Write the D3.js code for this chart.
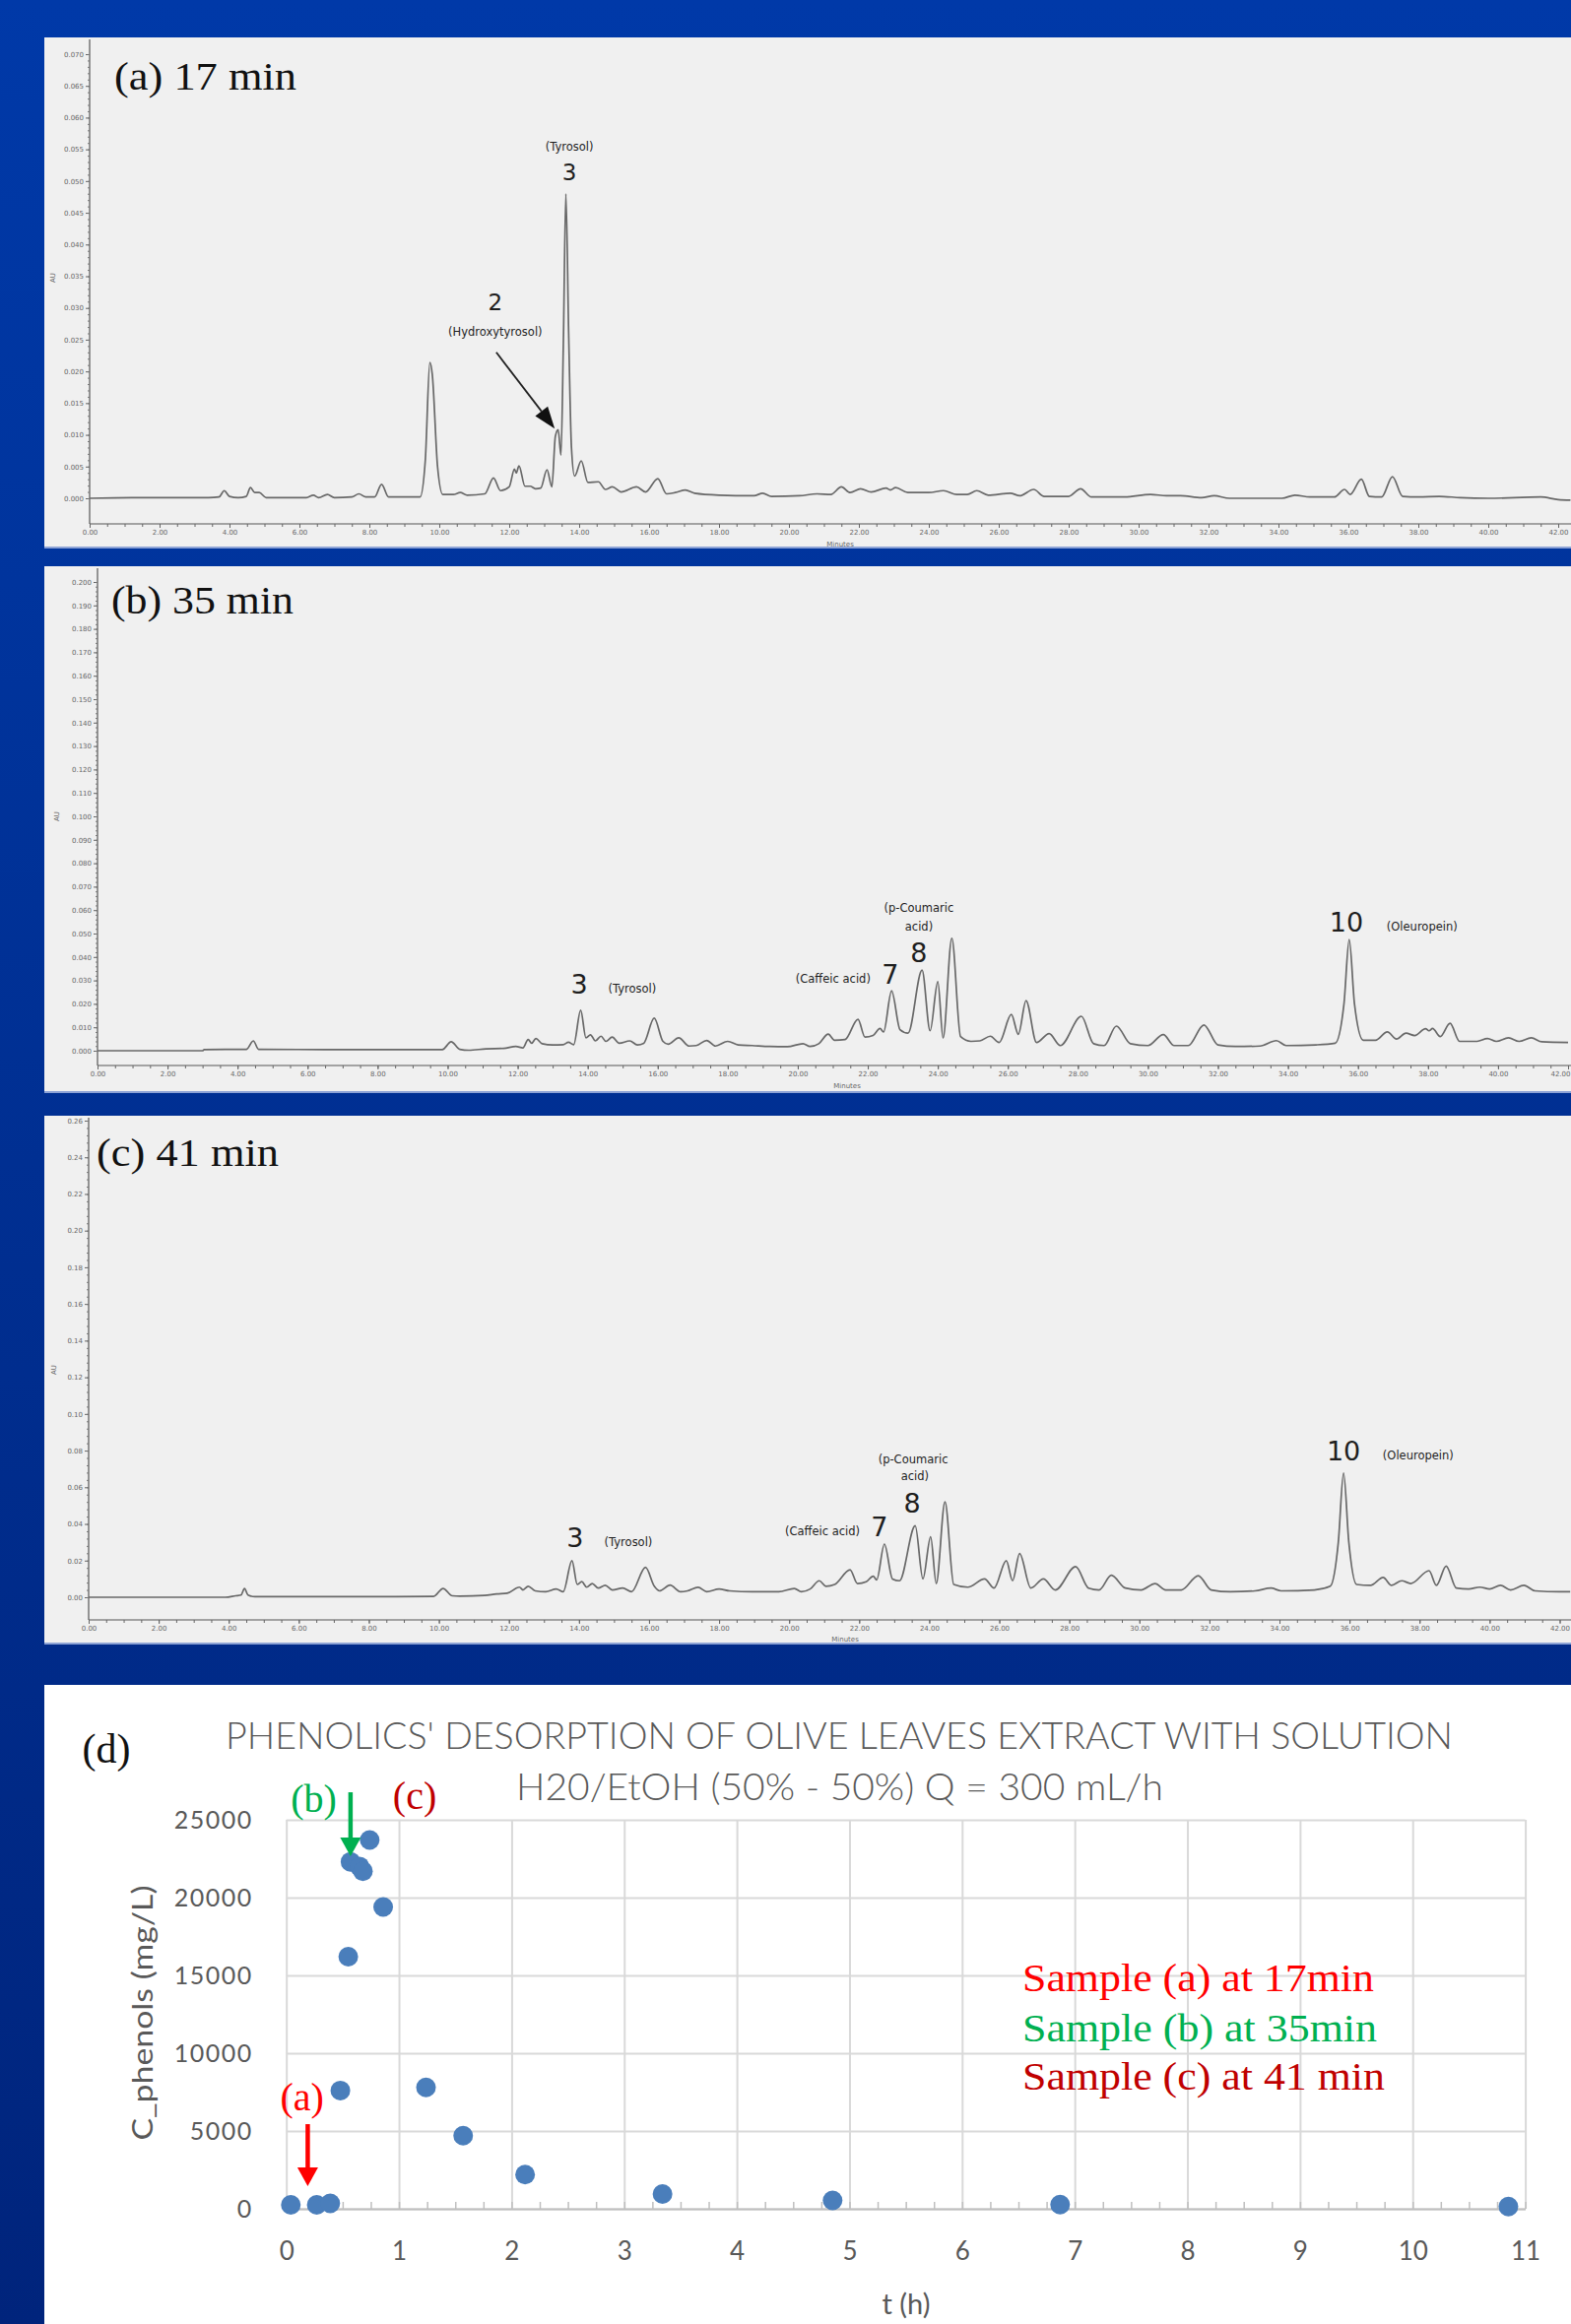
<!DOCTYPE html>
<html>
<head>
<meta charset="utf-8">
<script src="https://cdn.jsdelivr.net/npm/d3@7"></script>
<style>
  html, body { margin: 0; padding: 0; background: #0033a0; }
  svg { display: block; }
</style>
</head>
<body>
<svg id="fig" width="1595" height="2360"></svg>
<script>
// ---------- chromatogram data: [retention time (min), absorbance (AU)] ----------
const traceA = [
  [0,0],[1.2,0.0001],[3.4,0.0001],[3.7,0.0002],[3.85,0.0012],[4.0,0.0003],[4.25,0.0001],[4.48,0.0003],
  [4.6,0.0017],[4.72,0.0009],[4.85,0.0009],[5.05,0.0001],[6.2,0.0001],[6.4,0.0005],[6.55,0.0001],
  [6.8,0.0006],[7.0,0.0001],[7.5,0.0002],[7.7,0.0007],[7.9,0.0002],[8.15,0.0002],[8.35,0.0022],
  [8.55,0.0002],[9.45,0.0002],[9.6,0.006],[9.73,0.0214],[9.8,0.0195],[9.95,0.005],[10.1,0.0006],
  [10.4,0.0006],[10.6,0.0009],[10.8,0.0005],[11.3,0.0007],[11.55,0.0032],[11.75,0.0012],[12.0,0.0018],
  [12.15,0.0046],[12.2,0.004],[12.28,0.0051],[12.45,0.0019],[12.6,0.0019],[12.75,0.0015],[12.9,0.0016],
  [13.08,0.0045],[13.22,0.0018],[13.32,0.0098],[13.4,0.0108],[13.48,0.0068],[13.55,0.025],[13.62,0.048],
  [13.7,0.026],[13.78,0.008],[13.87,0.0035],[14.06,0.0059],[14.25,0.0025],[14.55,0.0026],[14.75,0.0014],
  [14.95,0.0018],[15.2,0.001],[15.64,0.0018],[15.9,0.001],[16.25,0.0031],[16.5,0.0007],[16.75,0.0009],
  [17.04,0.0013],[17.3,0.0008],[18.0,0.0005],[19.0,0.0004],[19.25,0.0008],[19.5,0.0003],[20.3,0.0004],
  [20.8,0.0007],[21.2,0.0006],[21.5,0.0018],[21.75,0.0009],[22.05,0.0015],[22.35,0.001],[22.78,0.0016],
  [22.9,0.0013],[23.05,0.0017],[23.4,0.0009],[24.0,0.0009],[24.42,0.0012],[24.8,0.0006],[25.1,0.0006],
  [25.37,0.0012],[25.7,0.0005],[26.33,0.0008],[26.6,0.0004],[27.0,0.0014],[27.3,0.0003],[28.0,0.0003],
  [28.34,0.0015],[28.65,0.0002],[29.6,0.0002],[30.34,0.0006],[30.8,0.0004],[31.2,0.0004],[31.8,0.0001],
  [32.16,0.0004],[32.6,0],[34.1,0],[34.47,0.0005],[34.9,0.0002],[35.6,0.0002],[35.89,0.0014],
  [36.05,0.0006],[36.37,0.003],[36.6,0.0003],[36.95,0.0002],[37.26,0.0034],[37.55,0.0003],[38.0,0.0002],
  [38.6,0.0003],[39.2,0.0001],[40.0,0],[41.5,0.0002],[42.0,-0.0002],[42.35,-0.0003]
];

const traceB = [
  [0,0],[3.0,0],[3.05,0.0005],[4.25,0.0006],[4.45,0.0042],[4.6,0.0006],[6.5,0.0005],[8.7,0.0005],
  [9.85,0.0005],[10.1,0.0038],[10.35,0.0006],[10.6,0.0002],[11.1,0.0008],[11.6,0.001],[11.95,0.0018],
  [12.15,0.0012],[12.3,0.0048],[12.4,0.0032],[12.52,0.0052],[12.7,0.003],[13.0,0.0025],[13.3,0.0026],
  [13.45,0.0036],[13.6,0.0026],[13.8,0.0173],[13.95,0.0055],[14.08,0.0068],[14.22,0.0042],[14.38,0.0062],
  [14.52,0.004],[14.7,0.0058],[14.9,0.0032],[15.2,0.0042],[15.42,0.0025],[15.6,0.0032],[15.9,0.0139],
  [16.15,0.004],[16.3,0.0028],[16.6,0.0055],[16.9,0.002],[17.1,0.0022],[17.4,0.0044],[17.65,0.002],
  [18.0,0.004],[18.3,0.0025],[18.7,0.0022],[19.2,0.0018],[19.7,0.0017],[20.15,0.003],[20.35,0.0018],
  [20.6,0.003],[20.87,0.0071],[21.05,0.0045],[21.35,0.0048],[21.72,0.0134],[21.92,0.0058],[22.15,0.0065],
  [22.35,0.0095],[22.45,0.008],[22.68,0.0256],[22.92,0.009],[23.15,0.0075],[23.55,0.0344],[23.78,0.0085],
  [24.0,0.0295],[24.15,0.0055],[24.4,0.048],[24.65,0.006],[24.95,0.004],[25.2,0.0042],[25.5,0.0062],
  [25.75,0.0035],[26.1,0.0155],[26.3,0.007],[26.52,0.0214],[26.82,0.0035],[27.18,0.0073],[27.5,0.0022],
  [28.1,0.0147],[28.45,0.003],[28.75,0.0022],[29.1,0.0105],[29.5,0.003],[30.0,0.0022],[30.44,0.0069],
  [30.75,0.0022],[31.15,0.0022],[31.6,0.011],[32.0,0.0025],[32.5,0.0018],[33.2,0.002],[33.67,0.0043],
  [33.95,0.0022],[34.8,0.0025],[35.35,0.0032],[35.6,0.02],[35.75,0.0474],[35.9,0.02],[36.15,0.0045],
  [36.5,0.0045],[36.84,0.008],[37.1,0.005],[37.37,0.0075],[37.62,0.0065],[37.93,0.0094],[38.03,0.0085],
  [38.13,0.0095],[38.35,0.006],[38.63,0.0117],[38.9,0.004],[39.4,0.004],[39.7,0.0052],[39.95,0.004],
  [40.3,0.0055],[40.6,0.004],[40.95,0.0055],[41.25,0.0038],[42,0.0035]
];

const traceC = [
  [0,0],[3.9,0],[4.2,0.0008],[4.35,0.0012],[4.45,0.0048],[4.55,0.0012],[4.75,0.0003],[6,0.0003],
  [8,0.0003],[9.85,0.0005],[10.12,0.0048],[10.38,0.0008],[10.6,0.0006],[11.3,0.001],[11.65,0.0018],
  [11.95,0.0022],[12.3,0.0055],[12.4,0.004],[12.55,0.006],[12.75,0.0035],[13.05,0.003],[13.35,0.0045],
  [13.55,0.003],[13.8,0.0199],[13.95,0.007],[14.08,0.0085],[14.22,0.0055],[14.38,0.0075],[14.55,0.005],
  [14.75,0.0065],[14.95,0.004],[15.25,0.005],[15.5,0.003],[15.9,0.0163],[16.15,0.006],[16.3,0.0035],
  [16.6,0.0066],[16.9,0.003],[17.1,0.0035],[17.4,0.0054],[17.65,0.003],[18.0,0.0045],[18.3,0.0035],
  [19.0,0.003],[19.7,0.003],[20.15,0.0048],[20.35,0.003],[20.6,0.0045],[20.86,0.009],[21.05,0.006],
  [21.3,0.007],[21.74,0.015],[21.95,0.0075],[22.2,0.0085],[22.4,0.0115],[22.5,0.0095],[22.72,0.029],
  [22.95,0.01],[23.15,0.009],[23.6,0.039],[23.82,0.01],[24.04,0.033],[24.2,0.0075],[24.45,0.052],
  [24.7,0.007],[25.1,0.0055],[25.58,0.01],[25.85,0.005],[26.2,0.0199],[26.38,0.009],[26.58,0.0238],
  [26.9,0.005],[27.26,0.01],[27.6,0.004],[28.18,0.0167],[28.55,0.005],[28.85,0.004],[29.2,0.012],
  [29.6,0.005],[30.05,0.004],[30.45,0.0075],[30.75,0.004],[31.2,0.004],[31.68,0.0118],[32.05,0.004],
  [32.6,0.003],[33.3,0.0035],[33.76,0.005],[34.05,0.0035],[35.0,0.004],[35.45,0.006],[35.68,0.03],
  [35.83,0.0677],[35.98,0.03],[36.2,0.007],[36.6,0.0065],[36.96,0.0108],[37.2,0.0065],[37.49,0.009],
  [37.75,0.0075],[38.27,0.0145],[38.48,0.0065],[38.76,0.017],[39.05,0.005],[39.4,0.0045],[39.72,0.0055],
  [40.0,0.0045],[40.31,0.0065],[40.6,0.004],[40.98,0.0065],[41.3,0.0035],[42,0.003],[42.3,0.003]
];

// peak labels, anchored in (time, absorbance)
const labelsA = [
  { text: "(Tyrosol)", t: 13.72, v: 0.0554, kind: "name" },
  { text: "3", t: 13.72, v: 0.0514, kind: "numA" },
  { text: "2", t: 11.6, v: 0.0309, kind: "numA" },
  { text: "(Hydroxytyrosol)", t: 11.6, v: 0.0262, kind: "name" }
];
const arrowA = { from: [11.63, 0.023], to: [13.3, 0.011] };

const labelsB = [
  { text: "3", t: 13.76, v: 0.0282, kind: "num" },
  { text: "(Tyrosol)", t: 15.27, v: 0.0265, kind: "name" },
  { text: "(Caffeic acid)", t: 21.01, v: 0.0307, kind: "name" },
  { text: "7", t: 22.64, v: 0.0324, kind: "num" },
  { text: "8", t: 23.46, v: 0.0416, kind: "num" },
  { text: "(p-Coumaric", t: 23.46, v: 0.0609, kind: "name" },
  { text: "acid)", t: 23.46, v: 0.0529, kind: "name" },
  { text: "10", t: 35.67, v: 0.055, kind: "num" },
  { text: "(Oleuropein)", t: 37.83, v: 0.0529, kind: "name" }
];

const labelsC = [
  { text: "3", t: 13.89, v: 0.0323, kind: "num" },
  { text: "(Tyrosol)", t: 15.41, v: 0.0301, kind: "name" },
  { text: "(Caffeic acid)", t: 20.95, v: 0.036, kind: "name" },
  { text: "7", t: 22.58, v: 0.0382, kind: "num" },
  { text: "8", t: 23.51, v: 0.0511, kind: "num" },
  { text: "(p-Coumaric", t: 23.54, v: 0.0753, kind: "name" },
  { text: "acid)", t: 23.59, v: 0.0661, kind: "name" },
  { text: "10", t: 35.83, v: 0.0796, kind: "num" },
  { text: "(Oleuropein)", t: 37.96, v: 0.0774, kind: "name" }
];

const minuteTicks = [0,2,4,6,8,10,12,14,16,18,20,22,24,26,28,30,32,34,36,38,40,42];
const yTicksA = [0,0.005,0.01,0.015,0.02,0.025,0.03,0.035,0.04,0.045,0.05,0.055,0.06,0.065,0.07];
const yTicksB = [0,0.01,0.02,0.03,0.04,0.05,0.06,0.07,0.08,0.09,0.1,0.11,0.12,0.13,0.14,0.15,0.16,0.17,0.18,0.19,0.2];
const yTicksC = [0,0.02,0.04,0.06,0.08,0.1,0.12,0.14,0.16,0.18,0.2,0.22,0.24,0.26];

// ---------- panel (d) data ----------
const timeHours  = [0.04, 0.27, 0.39, 0.48, 0.55, 0.57, 0.65, 0.68, 0.74, 0.86, 1.24, 1.57, 2.12, 3.34, 4.85, 6.87, 10.85];
const phenolsMgL = [250, 250, 350, 7600, 16200, 22300, 22000, 21700, 23700, 19400, 7800, 4700, 2200, 950, 540, 270, 140];
const dXTicks = [0,1,2,3,4,5,6,7,8,9,10,11];
const dYTicks = [0,5000,10000,15000,20000,25000];

// sample markers: label position and arrow (time h, concentration)
const sampleMarks = [
  { text: "(a)", t: 0.14, c: 7215, color: "#ff0000", arrowT: 0.19, arrowFrom: 5440, arrowTo: 1460 },
  { text: "(b)", t: 0.244, c: 26390, color: "#00b050", arrowT: 0.57, arrowFrom: 26770, arrowTo: 22660 },
  { text: "(c)", t: 1.14, c: 26520, color: "#c00000" }
];
const sampleNotes = [
  { text: "Sample (a) at 17min", color: "#ff0000", c: 13990, len: 357 },
  { text: "Sample (b) at 35min", color: "#00b050", c: 10790, len: 360 },
  { text: "Sample (c) at 41 min", color: "#c00000", c: 7660, len: 368 }
];
const noteT = 6.535;

// ---------- drawing ----------
const svg = d3.select("#fig");
const defs = svg.append("defs");
const bg = defs.append("linearGradient").attr("id", "bg")
  .attr("x1", 0).attr("y1", 0).attr("x2", 0).attr("y2", 1);
bg.append("stop").attr("offset", "0%").attr("stop-color", "#0039a8");
bg.append("stop").attr("offset", "50%").attr("stop-color", "#002f92");
bg.append("stop").attr("offset", "100%").attr("stop-color", "#00247c");
svg.append("rect").attr("width", 1595).attr("height", 2360).attr("fill", "url(#bg)");

const SERIF = "'Liberation Serif', 'Times New Roman', serif";
const SANS = "'DejaVu Sans', Verdana, sans-serif";
const CAL = "Lato, 'Open Sans', sans-serif";

const chromPanels = [
  { title: "(a) 17 min", trace: traceA, labels: labelsA, arrow: arrowA,
    box: [45, 38, 1550, 519], x0: 91, x42: 1582, yDomain: [0, 0.07], yRange: [506, 55],
    yTicks: yTicksA, yMinor: 0.001, fmt: ".3f", axisY: 532, titleX: 116, titleY: 91,
    au: [54, 282], minutes: [853, 553] },
  { title: "(b) 35 min", trace: traceB, labels: labelsB,
    box: [45, 575, 1550, 535], x0: 99, x42: 1592, yDomain: [0, 0.2], yRange: [1067, 591],
    yTicks: yTicksB, yMinor: 0.002, fmt: ".3f", axisY: 1082, titleX: 113, titleY: 623,
    au: [58, 829], minutes: [860, 1103] },
  { title: "(c) 41 min", trace: traceC, labels: labelsC,
    box: [45, 1133, 1550, 537], x0: 90, x42: 1583.5, yDomain: [0, 0.26], yRange: [1622, 1138],
    yTicks: yTicksC, yMinor: 0.004, fmt: ".2f", axisY: 1645, titleX: 98, titleY: 1184,
    au: [55, 1391], minutes: [858, 1665] }
];

function styleAxis(sel, size, color) {
  sel.select(".domain").remove();
  sel.selectAll("line").attr("stroke", color).attr("stroke-width", 1);
  sel.selectAll("text").attr("fill", color).style("font-size", size + "px").style("font-family", SANS);
}

chromPanels.forEach((p) => {
  const g = svg.append("g");
  const [bx, by, bw, bh] = p.box;
  g.append("rect").attr("x", bx).attr("y", by).attr("width", bw).attr("height", bh).attr("fill", "#f0f0f0");
  g.append("rect").attr("x", bx).attr("y", by + bh - 2).attr("width", bw).attr("height", 2).attr("fill", "#8da3d6");

  const x = d3.scaleLinear().domain([0, 42]).range([p.x0, p.x42]);
  const y = d3.scaleLinear().domain(p.yDomain).range(p.yRange);

  // x axis (major + minor ticks)
  g.append("line").attr("x1", p.x0).attr("x2", bx + bw).attr("y1", p.axisY).attr("y2", p.axisY)
    .attr("stroke", "#555").attr("stroke-width", 1.2);
  g.append("g").attr("transform", `translate(0,${p.axisY})`)
    .call(d3.axisBottom(x).tickValues(minuteTicks).tickFormat(d3.format(".2f")).tickSize(4).tickPadding(2))
    .call((s) => styleAxis(s, 7, "#666"))
    .call((s) => s.selectAll(".tick text").filter((d) => x(d) + 10 > bx + bw).attr("text-anchor", "end").attr("x", 2));
  g.append("g").attr("transform", `translate(0,${p.axisY})`)
    .call(d3.axisBottom(x).tickValues(d3.range(0, 42.01, 0.5)).tickFormat("").tickSize(3))
    .call((s) => styleAxis(s, 7, "#666"));

  // y axis (major + minor ticks)
  g.append("line").attr("x1", p.x0).attr("x2", p.x0).attr("y1", by + 2).attr("y2", p.axisY)
    .attr("stroke", "#555").attr("stroke-width", 1.2);
  g.append("g").attr("transform", `translate(${p.x0},0)`)
    .call(d3.axisLeft(y).tickValues(p.yTicks).tickFormat(d3.format(p.fmt)).tickSize(4).tickPadding(2))
    .call((s) => styleAxis(s, 7, "#666"));
  g.append("g").attr("transform", `translate(${p.x0},0)`)
    .call(d3.axisLeft(y).tickValues(d3.range(p.yDomain[0], p.yDomain[1] + 1e-9, p.yMinor)).tickFormat("").tickSize(2))
    .call((s) => styleAxis(s, 7, "#777"));

  g.append("text").attr("transform", `translate(${p.au[0]},${p.au[1]}) rotate(-90)`)
    .attr("text-anchor", "middle").attr("dominant-baseline", "central")
    .style("font-family", SANS).style("font-size", "7px").attr("fill", "#666").text("AU");
  g.append("text").attr("x", p.minutes[0]).attr("y", p.minutes[1])
    .attr("text-anchor", "middle").attr("dominant-baseline", "central")
    .style("font-family", SANS).style("font-size", "7px").attr("fill", "#666").text("Minutes");

  // trace (clipped to the panel)
  const clipId = "clip-" + p.title.charAt(1);
  defs.append("clipPath").attr("id", clipId).append("rect")
    .attr("x", bx).attr("y", by).attr("width", bw).attr("height", bh);
  const line = d3.line().x((d) => x(d[0])).y((d) => y(d[1])).curve(d3.curveMonotoneX);
  g.append("path").datum(p.trace).attr("d", line).attr("clip-path", `url(#${clipId})`)
    .attr("fill", "none").attr("stroke", "#686868").attr("stroke-width", 1.7).attr("stroke-linejoin", "round");

  // peak labels
  g.selectAll(".pl").data(p.labels).join("text")
    .attr("x", (d) => x(d.t)).attr("y", (d) => y(d.v))
    .attr("text-anchor", "middle").attr("dominant-baseline", "central")
    .style("font-family", SANS)
    .style("font-size", (d) => d.kind === "name" ? "11.5px" : d.kind === "numA" ? "23px" : "27px")
    .attr("fill", "#1e1e1e").text((d) => d.text);

  if (p.arrow) {
    const x1 = x(p.arrow.from[0]), y1 = y(p.arrow.from[1]);
    const x2 = x(p.arrow.to[0]), y2 = y(p.arrow.to[1]);
    const ang = Math.atan2(y2 - y1, x2 - x1);
    const hl = 22, hw = 8;
    const bxp = x2 - hl * Math.cos(ang), byp = y2 - hl * Math.sin(ang);
    g.append("line").attr("x1", x1).attr("y1", y1).attr("x2", bxp).attr("y2", byp)
      .attr("stroke", "#222").attr("stroke-width", 1.8);
    g.append("polygon").attr("fill", "#111").attr("points", [
      [x2, y2],
      [bxp + hw * Math.sin(ang), byp - hw * Math.cos(ang)],
      [bxp - hw * Math.sin(ang), byp + hw * Math.cos(ang)]
    ].map((pt) => pt.join(",")).join(" "));
  }

  g.append("text").attr("x", p.titleX).attr("y", p.titleY)
    .attr("textLength", 185).attr("lengthAdjust", "spacingAndGlyphs")
    .style("font-family", SERIF).style("font-size", "39px").attr("fill", "#111").text(p.title);
});

// ---------- panel (d): scatter ----------
const dBox = [45, 1711, 1550, 649];
svg.append("rect").attr("x", dBox[0]).attr("y", dBox[1]).attr("width", dBox[2]).attr("height", dBox[3]).attr("fill", "#ffffff");

const dx = d3.scaleLinear().domain([0, 11]).range([290.7, 1548.6]);
const dy = d3.scaleLinear().domain([0, 25000]).range([2243, 1848]);
const gd = svg.append("g");

gd.append("g").attr("transform", "translate(290.7,0)")
  .call(d3.axisLeft(dy).tickValues(dYTicks).tickFormat(d3.format("d")).tickSize(-(1548.6 - 290.7)).tickPadding(34))
  .call((s) => {
    s.select(".domain").remove();
    s.selectAll("line").attr("stroke", "#d9d9d9").attr("stroke-width", 2);
    s.selectAll("text").attr("fill", "#595959").style("font-family", CAL).style("font-size", "25px")
      .style("letter-spacing", "1.5px");
  });
gd.append("g").attr("transform", "translate(0,2243)")
  .call(d3.axisBottom(dx).tickValues(dXTicks).tickFormat(d3.format("d")).tickSize(-(2243 - 1848)).tickPadding(34))
  .call((s) => {
    s.select(".domain").remove();
    s.selectAll("line").attr("stroke", "#d9d9d9").attr("stroke-width", 2);
    s.selectAll("text").attr("fill", "#595959").style("font-family", CAL).style("font-size", "26px");
  });
gd.append("g").attr("transform", "translate(0,2243)")
  .call(d3.axisTop(dx).tickValues(d3.range(0, 11.001, 0.25)).tickFormat("").tickSize(7).tickSizeOuter(0))
  .call((s) => {
    s.select(".domain").attr("stroke", "#bfbfbf").attr("stroke-width", 2);
    s.selectAll("line").attr("stroke", "#bfbfbf").attr("stroke-width", 1.5);
  });

gd.selectAll(".pt").data(timeHours).join("circle")
  .attr("cx", (d) => dx(d)).attr("cy", (d, i) => dy(phenolsMgL[i]))
  .attr("r", 10).attr("fill", "#4a7ebb");

// titles
gd.append("text").attr("x", 852).attr("y", 1776).attr("text-anchor", "middle")
  .attr("textLength", 1246).attr("lengthAdjust", "spacingAndGlyphs")
  .style("font-family", CAL).style("font-weight", 300).style("font-size", "38px").attr("fill", "#595959")
  .text("PHENOLICS' DESORPTION OF OLIVE LEAVES EXTRACT WITH SOLUTION");
gd.append("text").attr("x", 852.5).attr("y", 1828).attr("text-anchor", "middle")
  .attr("textLength", 657).attr("lengthAdjust", "spacingAndGlyphs")
  .style("font-family", CAL).style("font-weight", 300).style("font-size", "38px").attr("fill", "#595959")
  .text("H20/EtOH (50% - 50%) Q = 300 mL/h");
gd.append("text").attr("x", 920).attr("y", 2350).attr("text-anchor", "middle")
  .style("font-family", CAL).style("font-size", "29px").attr("fill", "#595959").text("t (h)");
gd.append("text").attr("transform", "translate(143,2044) rotate(-90)")
  .attr("text-anchor", "middle").attr("dominant-baseline", "central")
  .attr("textLength", 259).attr("lengthAdjust", "spacingAndGlyphs")
  .style("font-family", CAL).style("font-size", "29px").attr("fill", "#595959").text("C_phenols (mg/L)");
gd.append("text").attr("x", 108).attr("y", 1776).attr("text-anchor", "middle").attr("dominant-baseline", "central")
  .style("font-family", SERIF).style("font-size", "42px").attr("fill", "#111").text("(d)");

// sample markers with arrows
sampleMarks.forEach((m) => {
  gd.append("text").attr("x", dx(m.t)).attr("y", dy(m.c)).attr("text-anchor", "middle").attr("dominant-baseline", "central")
    .style("font-family", SERIF).style("font-size", "40px").attr("fill", m.color).text(m.text);
  if (m.arrowT !== undefined) {
    const ax = dx(m.arrowT), ay1 = dy(m.arrowFrom), ay2 = dy(m.arrowTo);
    const hl = 19, hw = 10.5;
    gd.append("line").attr("x1", ax).attr("x2", ax).attr("y1", ay1).attr("y2", ay2 - hl + 1)
      .attr("stroke", m.color).attr("stroke-width", 4.5);
    gd.append("polygon").attr("fill", m.color)
      .attr("points", `${ax},${ay2} ${ax - hw},${ay2 - hl} ${ax + hw},${ay2 - hl}`);
  }
});

gd.selectAll(".note").data(sampleNotes).join("text")
  .attr("x", dx(noteT)).attr("y", (d) => dy(d.c))
  .attr("textLength", (d) => d.len).attr("lengthAdjust", "spacingAndGlyphs")
  .style("font-family", SERIF).style("font-size", "41px").attr("fill", (d) => d.color).text((d) => d.text);
</script>
</body>
</html>
